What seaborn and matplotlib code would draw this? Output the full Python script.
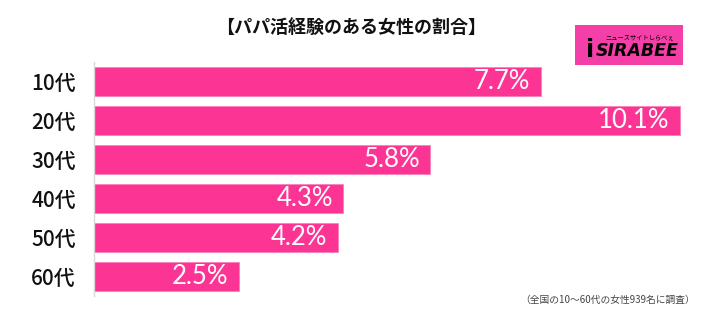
import matplotlib
matplotlib.use("Agg")
import matplotlib.pyplot as plt
import seaborn as sns
import pandas as pd
from matplotlib.patches import Rectangle

categories = ["10代", "20代", "30代", "40代", "50代", "60代"]
values = [7.7, 10.1, 5.8, 4.3, 4.2, 2.5]
labels = ["7.7%", "10.1%", "5.8%", "4.3%", "4.2%", "2.5%"]
title = "【パパ活経験のある女性の割合】"
note = "（全国の10～60代の女性939名に調査）"

sns.set_theme(style="white")
plt.rcParams['font.family'] = ['Noto Sans CJK JP', 'DejaVu Sans']

df = pd.DataFrame({"age": categories, "value": values})

W, H = 718, 322
fig = plt.figure(figsize=(W / 100, H / 100), dpi=100)
ax = fig.add_axes([94 / W, 1 - 296 / H, (700 - 94) / W, (296 - 62) / H])

pink = "#fc3594"
sns.barplot(data=df, x="value", y="age", orient="h", color=pink, width=0.72,
            saturation=1, ax=ax, edgecolor="#fd80b8", linewidth=0.6)

ax.set_xlim(0, 606 / 58.0)
ax.set_ylim(5.5, -0.5)
ax.set_xlabel("")
ax.set_ylabel("")
ax.set_xticks([])
for s in ["top", "right", "bottom"]:
    ax.spines[s].set_visible(False)
ax.spines["left"].set_color("#d8d8d8")
ax.spines["left"].set_linewidth(1)
ax.tick_params(axis="y", length=0, pad=13, labelsize=15, labelcolor="#111111")
for t in ax.get_yticklabels():
    t.set_fontweight("medium")

for i, (v, lab) in enumerate(zip(values, labels)):
    ax.text(v - 0.18, i, lab, ha="right", va="center", color="white",
            fontsize=18.5, family=["Lato", "DejaVu Sans"])

fig.text(351 / W, 1 - 27 / H, title, ha="center", va="center",
         fontsize=13, fontweight="bold", color="#111111")
fig.text(695 / W, 1 - 300 / H, note, ha="right", va="center",
         fontsize=7, color="#444444")

# logo
fig.patches.append(Rectangle((575 / W, 1 - 65 / H), 108 / W, 40 / H,
                             transform=fig.transFigure, facecolor="#f53fa8",
                             edgecolor="none"))
fig.text(590 / W, 1 - 50 / H, "i", ha="center", va="center", fontsize=17,
         fontweight="bold", color="black", family=["DejaVu Sans"])
fig.text(637 / W, 1 - 51 / H, "SIRABEE", ha="center", va="center", fontsize=12.5,
         fontweight="bold", color="black", family=["DejaVu Sans"], style="italic")
fig.text(640 / W, 1 - 37 / H, "ニュースサイトしらべぇ", ha="center", va="center",
         fontsize=4.5, color="black")

fig.savefig("out.png", dpi=100, facecolor="white")
